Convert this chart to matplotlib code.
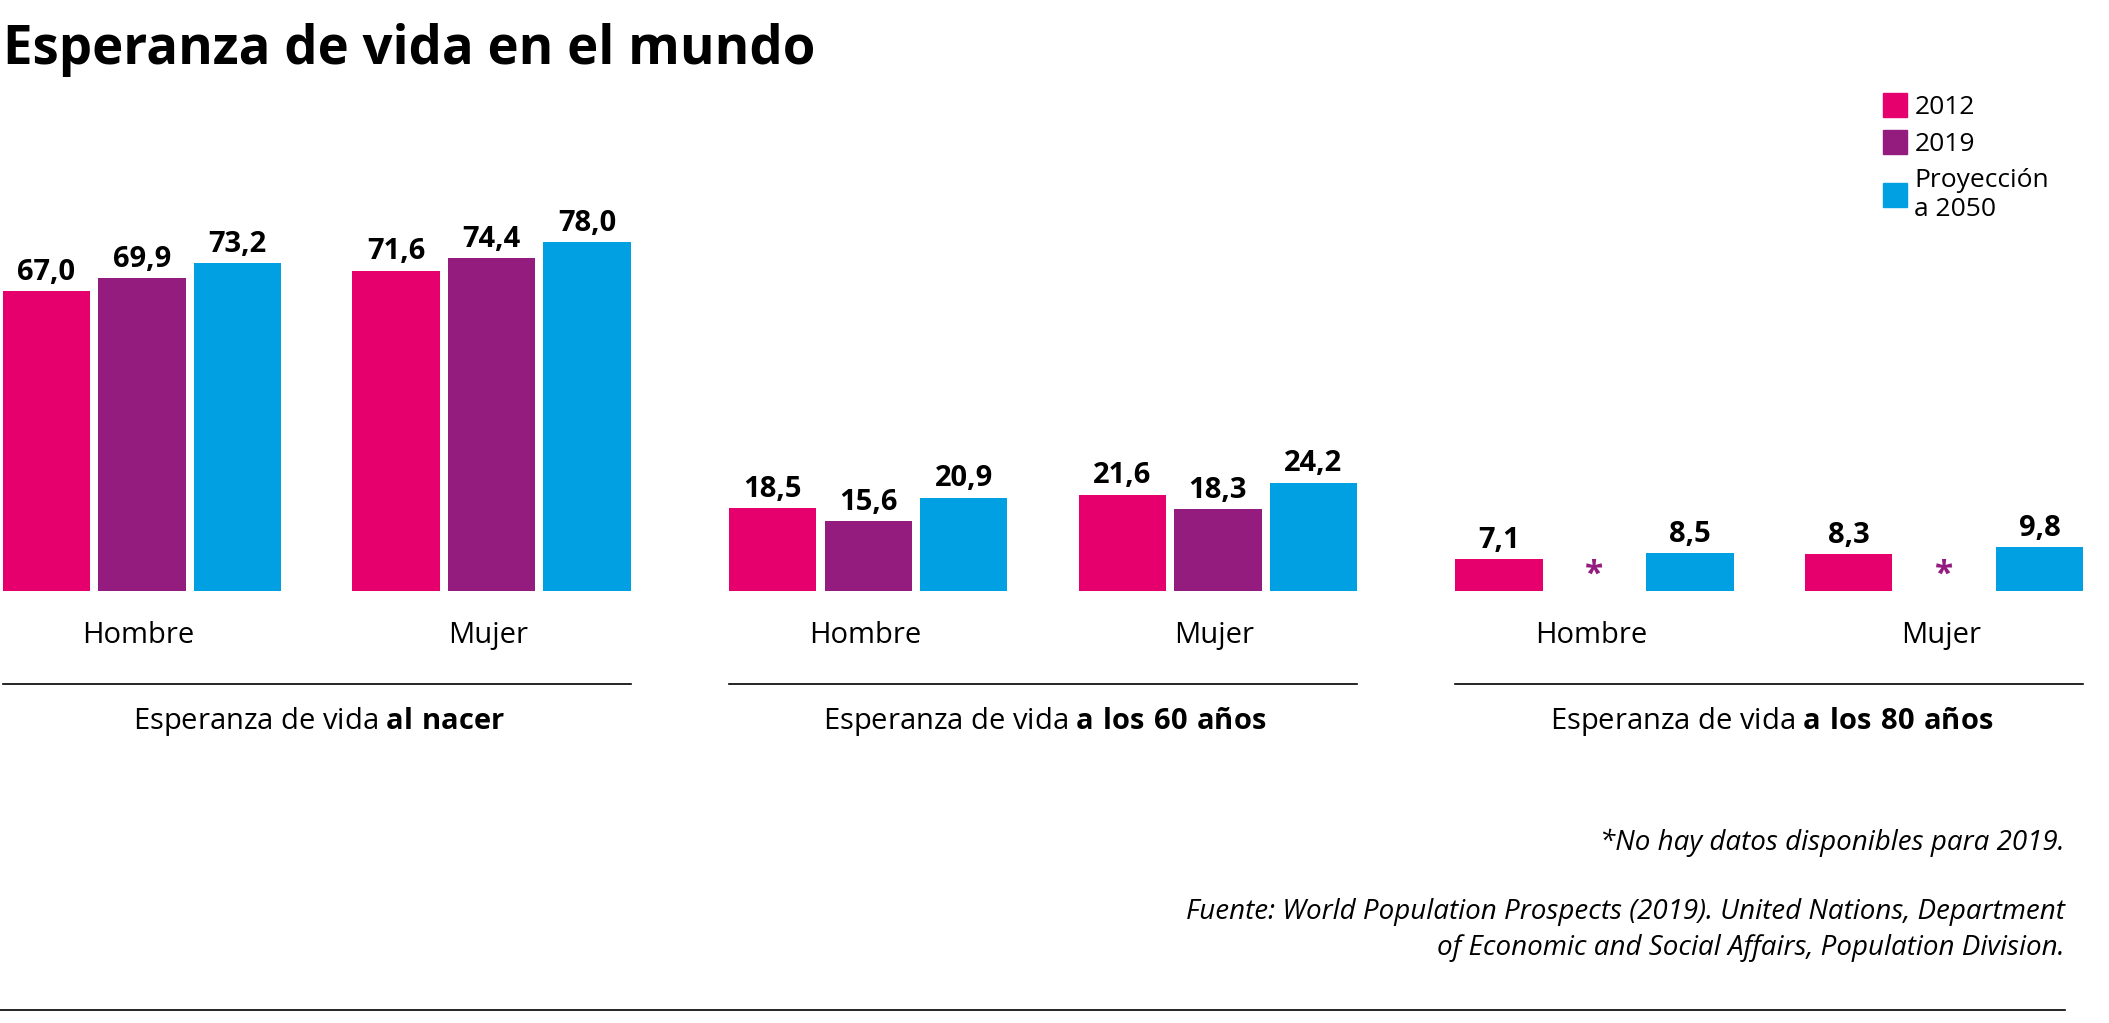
import numpy as np
import matplotlib.pyplot as plt
from matplotlib.patches import Patch

plt.rcParams['font.family'] = ['Open Sans', 'DejaVu Sans']
plt.rcParams['mathtext.fontset'] = 'custom'
plt.rcParams['mathtext.rm'] = 'Open Sans'
plt.rcParams['mathtext.bf'] = 'Open Sans:bold'

# data
panels = ["al nacer", "a los 60 años", "a los 80 años"]
sexes = ["Hombre", "Mujer"]
series = ["2012", "2019", "Proyección\na 2050"]
colors = ["#E6006E", "#931C7E", "#00A0E3"]
values = {
    "2012": [[67.0, 71.6], [18.5, 21.6], [7.1, 8.3]],
    "2019": [[69.9, 74.4], [15.6, 18.3], [None, None]],
    "2050": [[73.2, 78.0], [20.9, 24.2], [8.5, 9.8]],
}
keys = ["2012", "2019", "2050"]

W, H = 1568, 770  # layout units (pixels of reference at reduced scale)
fig = plt.figure(figsize=(21.09, 10.23), dpi=100)
base = 445
ax = fig.add_axes([0, (H - base) / H, 1, base / H])
px_per_unit = 3.37
ax.set_xlim(0, W)
ax.set_ylim(0, base / px_per_unit)
ax.axis("off")

def fy(y):
    return 1 - y / H

bw = 65
for p, name in enumerate(panels):
    x0 = 2 + 540 * p
    for s, sex in enumerate(sexes):
        gx = x0 + 260 * s
        for k, key in enumerate(keys):
            v = values[key][p][s]
            x = gx + 71 * k
            if v is None:
                ax.text(x + bw / 2, 3.5, "*", color=colors[k], ha="center", va="center",
                        fontsize=24, fontweight="bold")
                continue
            ax.bar(x, v, width=bw, align="edge", color=colors[k])
            ax.text(x + bw / 2, v + 1.0, f"{v:.1f}".replace(".", ","), ha="center",
                    va="bottom", fontsize=21, fontweight="bold")
        fig.text((gx + 101) / W, fy(478), sex, ha="center", va="center", fontsize=21)
    fig.add_artist(plt.Line2D([x0 / W, (x0 + 467) / W], [fy(515), fy(515)],
                              color="black", lw=1.2))
    fig.text((x0 + 235) / W, fy(543), "Esperanza de vida $\\bf{" + name.replace(" ", "\\ ") + "}$",
             ha="center", va="center", fontsize=21)

fig.text(2 / W, fy(38), "Esperanza de vida en el mundo", fontsize=38, fontweight="bold",
         va="center", ha="left")

handles = [Patch(color=c) for c in colors]
fig.legend(handles, series, loc="upper left", bbox_to_anchor=(1392 / W, fy(62)),
           frameon=False, fontsize=19, handlelength=0.9, handleheight=1.0,
           handletextpad=0.3, labelspacing=0.4, borderaxespad=0)

fig.text(1535 / W, fy(634), "*No hay datos disponibles para 2019.", ha="right",
         va="center", fontsize=20, style="italic")
fig.text(1535 / W, fy(700), "Fuente: World Population Prospects (2019). United Nations, Department\n"
         "of Economic and Social Affairs, Population Division.", ha="right", va="center",
         fontsize=20, style="italic", linespacing=1.4)
fig.add_artist(plt.Line2D([0, 1535 / W], [fy(760), fy(760)], color="black", lw=1.2))

fig.savefig("out.png", dpi=100)
